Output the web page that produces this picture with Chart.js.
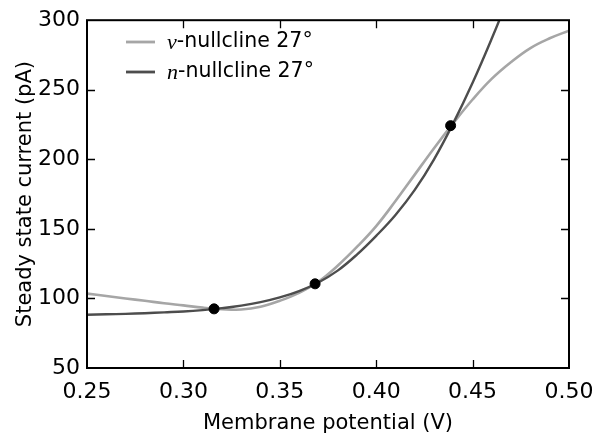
<!DOCTYPE html>
<html>
<head>
<meta charset="utf-8">
<script src="https://cdn.jsdelivr.net/npm/chart.js@4.4.1/dist/chart.umd.min.js"></script>
<style>
  html, body { margin: 0; padding: 0; background: #fff; }
  #wrap { width: 608px; height: 441px; }
</style>
</head>
<body>
<div id="wrap"><canvas id="nullclines" width="608" height="441"></canvas></div>
<script>
// membrane potential samples (V)
const potential = [0.25, 0.26, 0.27, 0.28, 0.29, 0.30, 0.31, 0.32, 0.33, 0.34, 0.35, 0.36, 0.37,
  0.38, 0.39, 0.40, 0.41, 0.42, 0.43, 0.44, 0.45, 0.46, 0.47, 0.48, 0.49, 0.50];

// v-nullcline 27° (pA)
const vNullcline = [103.5, 101.8, 100, 98.3, 96.5, 95, 93.4, 92.3, 92, 94, 98.3, 104, 112,
  123.5, 137, 152, 170, 189, 208, 226, 243, 258, 270, 280, 287, 292.5];

// n-nullcline 27° (pA), runs off the top after ~0.463 V
const nNullcline = [88.3, 88.6, 88.9, 89.4, 90, 90.6, 91.6, 93, 94.8, 97.3, 100.7, 105.3, 111.5,
  120, 131.5, 145, 160, 178, 200, 226, 255, 287, 321];

// intersections (fixed points)
const fixedV = [0.3159, 0.3683, 0.4386];
const fixedI = [92.5, 110.5, 224.2];

const xTicks = [0.25, 0.30, 0.35, 0.40, 0.45, 0.50];
const yTicks = [50, 100, 150, 200, 250, 300];

const legendLabels = [
  { sym: 'v', rest: '-nullcline 27°', color: '#a6a6a6' },
  { sym: 'n', rest: '-nullcline 27°', color: '#4d4d4d' }
];

const toPoints = (xs, ys) => ys.map((y, i) => ({ x: xs[i], y }));

Chart.defaults.font.family = '"DejaVu Sans", sans-serif';
Chart.defaults.font.size = 21;
Chart.defaults.color = '#000';

// matplotlib-style frame with inward ticks on all four sides, plus the legend
const framePlugin = {
  id: 'frame',
  afterDraw(chart) {
    const { ctx, chartArea: a, scales } = chart;
    const len = 8;
    ctx.save();
    ctx.strokeStyle = '#000';
    ctx.lineWidth = 1.3;
    ctx.beginPath();
    xTicks.forEach(v => {
      const px = Math.round(scales.x.getPixelForValue(v)) + 0.5;
      if (px <= a.left + 1 || px >= a.right - 1) return;
      ctx.moveTo(px, a.bottom); ctx.lineTo(px, a.bottom - len);
      ctx.moveTo(px, a.top); ctx.lineTo(px, a.top + len);
    });
    yTicks.forEach(v => {
      const py = Math.round(scales.y.getPixelForValue(v)) + 0.5;
      if (py <= a.top + 1 || py >= a.bottom - 1) return;
      ctx.moveTo(a.left, py); ctx.lineTo(a.left + len, py);
      ctx.moveTo(a.right, py); ctx.lineTo(a.right - len, py);
    });
    ctx.stroke();
    ctx.lineWidth = 2;
    ctx.strokeRect(a.left, a.top, a.right - a.left, a.bottom - a.top);

    // legend
    legendLabels.forEach((item, i) => {
      const y = 42 + i * 30;
      ctx.strokeStyle = item.color;
      ctx.lineWidth = 2.8;
      ctx.beginPath();
      ctx.moveTo(126, y);
      ctx.lineTo(155, y);
      ctx.stroke();
      ctx.fillStyle = '#000';
      ctx.textBaseline = 'middle';
      ctx.textAlign = 'left';
      ctx.font = 'italic 22px "Liberation Serif", serif';
      ctx.fillText(item.sym, 167, y + 1);
      const w = ctx.measureText(item.sym).width;
      ctx.font = '20.5px "DejaVu Sans", sans-serif';
      ctx.fillText(item.rest, 167 + w, y);
    });
    ctx.restore();
  }
};

new Chart(document.getElementById('nullclines'), {
  type: 'scatter',
  data: {
    datasets: [
      {
        label: 'v-nullcline 27°',
        data: toPoints(potential, vNullcline),
        showLine: true,
        borderColor: '#a6a6a6',
        borderWidth: 2.6,
        pointRadius: 0,
        tension: 0.4,
        order: 3
      },
      {
        label: 'n-nullcline 27°',
        data: toPoints(potential, nNullcline),
        showLine: true,
        borderColor: '#4d4d4d',
        borderWidth: 2.4,
        pointRadius: 0,
        tension: 0.4,
        order: 2
      },
      {
        label: 'fixed points',
        data: toPoints(fixedV, fixedI),
        showLine: false,
        pointRadius: 5,
        pointBackgroundColor: '#000',
        pointBorderColor: '#000',
        order: 1
      }
    ]
  },
  options: {
    responsive: false,
    animation: false,
    layout: { padding: { top: 11, right: 39, left: 0, bottom: 0 } },
    plugins: {
      legend: { display: false },
      tooltip: { enabled: false }
    },
    scales: {
      x: {
        type: 'linear',
        min: 0.25,
        max: 0.50,
        grid: { display: false, drawTicks: false },
        border: { display: false },
        ticks: {
          stepSize: 0.05,
          padding: 11,
          font: { size: 22 },
          callback: v => v.toFixed(2)
        },
        title: {
          display: true,
          text: 'Membrane potential (V)',
          padding: { top: 0, bottom: 5 }
        },
        afterFit: s => { s.height = 73; }
      },
      y: {
        min: 50,
        max: 300,
        grid: { display: false, drawTicks: false },
        border: { display: false },
        ticks: { stepSize: 50, padding: 7, font: { size: 22 } },
        title: {
          display: true,
          text: 'Steady state current (pA)',
          padding: { top: 13, bottom: 0 }
        },
        afterFit: s => { s.width = 87; }
      }
    }
  },
  plugins: [framePlugin]
});
</script>
</body>
</html>
